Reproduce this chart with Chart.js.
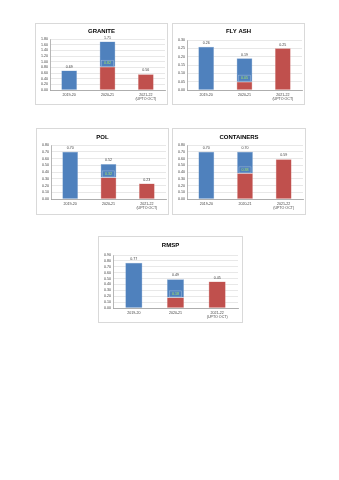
<!DOCTYPE html>
<html>
<head>
<meta charset="utf-8">
<script src="https://cdn.jsdelivr.net/npm/chart.js@4.4.0/dist/chart.umd.min.js"></script>
<style>
  body { margin: 0; background: #fff; }
  #page { position: relative; width: 339px; height: 480px; overflow: hidden; }
  .panel { position: absolute; border: 1px solid #d9d9d9; box-sizing: border-box; background: #fff; }
  .panel canvas { display: block; }
</style>
</head>
<body>
<div id="page">
  <div class="panel" style="left:35px;top:23px;width:133px;height:82px"><canvas id="c1"></canvas></div>
  <div class="panel" style="left:172px;top:23px;width:133px;height:82px"><canvas id="c2"></canvas></div>
  <div class="panel" style="left:36px;top:128px;width:133px;height:87px"><canvas id="c3"></canvas></div>
  <div class="panel" style="left:172px;top:128px;width:134px;height:87px"><canvas id="c4"></canvas></div>
  <div class="panel" style="left:98px;top:236px;width:145px;height:87px"><canvas id="c5"></canvas></div>
</div>
<script>
// categorias (eje x)
const years = [['2019-20'], ['2020-21'], ['2021-22', '(UPTO OCT)']];

// parte azul / parte roja de cada barra
const graniteBlue = [0.69, 0.89, 0];
const graniteRed = [0, 0.82, 0.56];
const flyAshBlue = [0.26, 0.14, 0];
const flyAshRed = [0, 0.05, 0.25];
const polBlue = [0.70, 0.20, 0];
const polRed = [0, 0.32, 0.23];
const containersBlue = [0.70, 0.32, 0];
const containersRed = [0, 0.38, 0.59];
const rmspBlue = [0.77, 0.31, 0];
const rmspRed = [0, 0.18, 0.45];

const AZUL = '#4F81BD';
const ROJO = '#C0504D';
const FONT = "'Liberation Sans', Arial, sans-serif";

// etiquetas encima de cada barra y la del tramo rojo
const etiquetas = {
    id: 'etiquetas',
    afterDatasetsDraw(chart) {
        const ctx = chart.ctx;
        const y = chart.scales.y;
        const red = chart.data.datasets[0].data;
        const blue = chart.data.datasets[1].data;
        const meta = chart.getDatasetMeta(0);
        ctx.save();
        ctx.textAlign = 'center';
        ctx.textBaseline = 'bottom';
        red.forEach((r, i) => {
            const total = r + blue[i];
            const x = meta.data[i].x;
            ctx.font = '3.6px ' + FONT;
            ctx.fillStyle = '#404040';
            ctx.fillText(total.toFixed(2), x, y.getPixelForValue(total) - 2);
            if (r > 0 && blue[i] > 0) {
                const yy = y.getPixelForValue(r);
                const w = 12, h = 6;
                ctx.fillStyle = AZUL;
                ctx.fillRect(x - w / 2, yy - h - 0.5, w, h);
                ctx.strokeStyle = '#95B3D7';
                ctx.lineWidth = 0.6;
                ctx.strokeRect(x - w / 2, yy - h - 0.5, w, h);
                ctx.fillStyle = '#A6E06A';
                ctx.textBaseline = 'middle';
                ctx.fillText(r.toFixed(2), x, yy - h / 2 - 0.5);
                ctx.textBaseline = 'bottom';
            }
        });
        const t = chart.options.plugins.etiquetas;
        ctx.font = 'bold 6px ' + FONT;
        ctx.fillStyle = '#000';
        ctx.textBaseline = 'middle';
        ctx.fillText(t.titulo, chart.width / 2 + t.dx, t.ty);
        ctx.restore();
    }
};

function crearGrafico(id, titulo, red, blue, maxY, paso, g) {
    const canvas = document.getElementById(id);
    const box = canvas.parentElement;
    canvas.width = box.clientWidth;
    canvas.height = box.clientHeight;
    return new Chart(canvas.getContext('2d'), {
        type: 'bar',
        data: {
            labels: years,
            datasets: [
                { data: red, backgroundColor: ROJO, borderColor: '#D99694', borderWidth: 0.5, categoryPercentage: 1, barPercentage: 0.41 },
                { data: blue, backgroundColor: AZUL, borderColor: '#95B3D7', borderWidth: 0.5, categoryPercentage: 1, barPercentage: 0.41 }
            ]
        },
        options: {
            responsive: false,
            animation: false,
            devicePixelRatio: 1,
            layout: { padding: { top: g.top, right: g.right, left: 0, bottom: 0 } },
            plugins: {
                legend: { display: false },
                tooltip: { enabled: false },
                etiquetas: { titulo: titulo, ty: g.ty, dx: g.dx || 0 }
            },
            scales: {
                x: {
                    stacked: true,
                    grid: { display: false, drawTicks: false },
                    border: { color: '#868686', width: 0.6 },
                    ticks: { color: '#404040', font: { size: 3.6, family: FONT, lineHeight: 1.15 }, padding: 3, maxRotation: 0, autoSkip: false },
                    afterFit: s => { s.height = g.bottom; }
                },
                y: {
                    stacked: true,
                    min: 0,
                    max: maxY,
                    ticks: { stepSize: paso, autoSkip: false, color: '#404040', font: { size: 3.6, family: FONT }, padding: 2, callback: v => v.toFixed(2) },
                    grid: { color: '#d9d9d9', lineWidth: 0.6, drawTicks: false },
                    border: { color: '#868686', width: 0.6 },
                    afterFit: s => { s.width = g.left; }
                }
            }
        },
        plugins: [etiquetas]
    });
}

crearGrafico('c1', 'GRANITE', graniteRed, graniteBlue, 1.8, 0.2, { top: 15, right: 2, left: 14, bottom: 14, ty: 7 });
crearGrafico('c2', 'FLY ASH', flyAshRed, flyAshBlue, 0.3, 0.05, { top: 16, right: 2, left: 14, bottom: 14, ty: 7 });
crearGrafico('c3', 'POL', polRed, polBlue, 0.8, 0.1, { top: 16, right: 2, left: 14, bottom: 15, ty: 8 });
crearGrafico('c4', 'CONTAINERS', containersRed, containersBlue, 0.8, 0.1, { top: 16, right: 2, left: 14, bottom: 15, ty: 8 });
crearGrafico('c5', 'RMSP', rmspRed, rmspBlue, 0.9, 0.1, { top: 18, right: 4, left: 14, bottom: 14, ty: 8 });
</script>
</body>
</html>
